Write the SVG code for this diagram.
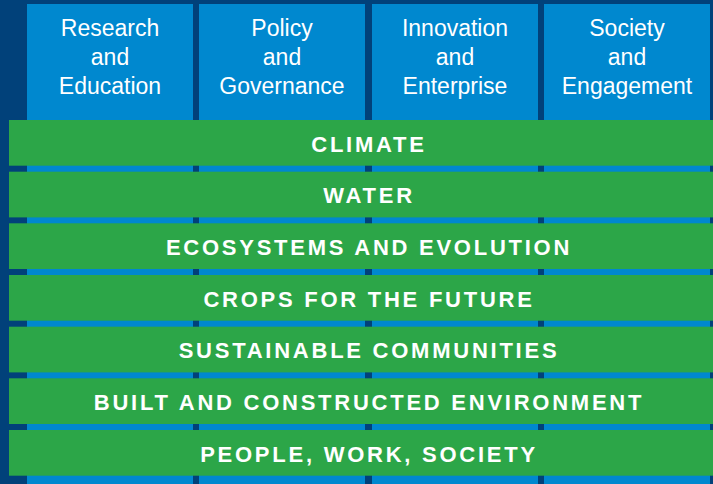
<svg xmlns="http://www.w3.org/2000/svg" width="713" height="484" viewBox="0 0 713 484">
<style>
.col{fill:#0088cf}
.bar{fill:#2ca648}
.ct{font-family:"Liberation Sans",Arial,sans-serif;font-size:23px;fill:#fff;text-anchor:middle}
.bt{font-family:"Liberation Sans",Arial,sans-serif;font-size:22px;font-weight:bold;letter-spacing:2.75px;fill:#fff;text-anchor:middle}
</style>
<rect x="0" y="0" width="713" height="484" fill="#01417a"/>
<g id="col-research">
<rect class="col" x="27" y="4" width="166" height="480"/>
<text class="ct" x="110" y="36">Research</text>
<text class="ct" x="110" y="65">and</text>
<text class="ct" x="110" y="94">Education</text>
</g>
<g id="col-policy">
<rect class="col" x="199" y="4" width="166" height="480"/>
<text class="ct" x="282" y="36">Policy</text>
<text class="ct" x="282" y="65">and</text>
<text class="ct" x="282" y="94">Governance</text>
</g>
<g id="col-innovation">
<rect class="col" x="372" y="4" width="166" height="480"/>
<text class="ct" x="455" y="36">Innovation</text>
<text class="ct" x="455" y="65">and</text>
<text class="ct" x="455" y="94">Enterprise</text>
</g>
<g id="col-society">
<rect class="col" x="544" y="4" width="166" height="480"/>
<text class="ct" x="627" y="36">Society</text>
<text class="ct" x="627" y="65">and</text>
<text class="ct" x="627" y="94">Engagement</text>
</g>
<g id="bar-climate">
<rect class="bar" x="9" y="120" width="704" height="45.7"/>
<text class="bt" x="369" y="151.5">CLIMATE</text>
</g>
<g id="bar-water">
<rect class="bar" x="9" y="171.7" width="704" height="45.7"/>
<text class="bt" x="369" y="203.2">WATER</text>
</g>
<g id="bar-ecosystems">
<rect class="bar" x="9" y="223.3" width="704" height="45.7"/>
<text class="bt" x="369" y="254.8">ECOSYSTEMS AND EVOLUTION</text>
</g>
<g id="bar-crops">
<rect class="bar" x="9" y="275" width="704" height="45.7"/>
<text class="bt" x="369" y="306.5">CROPS FOR THE FUTURE</text>
</g>
<g id="bar-communities">
<rect class="bar" x="9" y="326.7" width="704" height="45.7"/>
<text class="bt" x="369" y="358.2">SUSTAINABLE COMMUNITIES</text>
</g>
<g id="bar-built">
<rect class="bar" x="9" y="378.3" width="704" height="45.7"/>
<text class="bt" x="369" y="409.8">BUILT AND CONSTRUCTED ENVIRONMENT</text>
</g>
<g id="bar-people">
<rect class="bar" x="9" y="430" width="704" height="45.7"/>
<text class="bt" x="369" y="461.5">PEOPLE, WORK, SOCIETY</text>
</g>
<g id="connectors"/>
</svg>
